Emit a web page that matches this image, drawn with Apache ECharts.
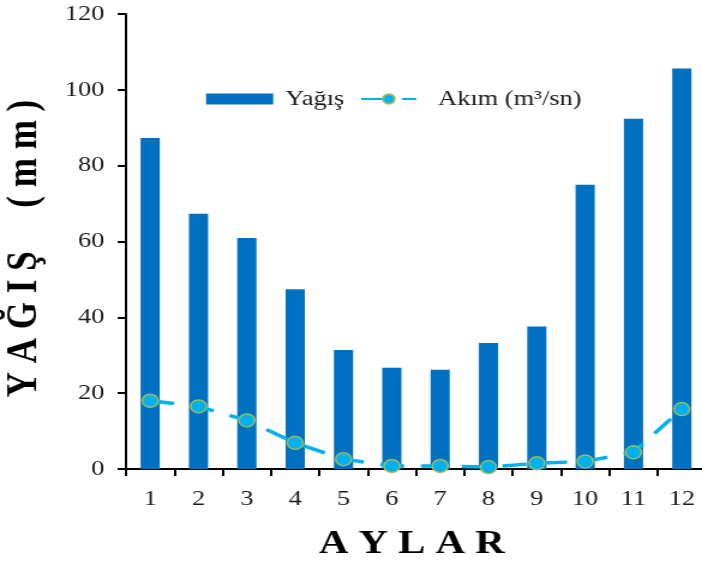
<!DOCTYPE html>
<html>
<head>
<meta charset="utf-8">
<script src="https://cdn.jsdelivr.net/npm/echarts@6/dist/echarts.min.js"></script>
<style>
  html, body { margin: 0; padding: 0; background: #fff; overflow: hidden; }
  /* the chart is laid out narrow and widened horizontally */
  #chart { width: 585px; height: 561px; transform: scaleX(1.2); transform-origin: 0 0; }
</style>
</head>
<body>
<div id="chart"></div>
<script>
// Monthly precipitation (mm) and discharge (m³/sn)
const months = ['1', '2', '3', '4', '5', '6', '7', '8', '9', '10', '11', '12'];
const yagis = [87.3, 67.3, 60.9, 47.4, 31.4, 26.7, 26.2, 33.2, 37.6, 75.0, 92.4, 105.6];
const akim = [18.0, 16.5, 12.8, 6.9, 2.6, 0.8, 0.8, 0.5, 1.5, 2.0, 4.4, 15.8];
const yMin = 0, yMax = 120, yStep = 20;

const serif = "'Liberation Serif', 'Times New Roman', serif";
const axisLine = { show: true, lineStyle: { color: '#000', width: 2 } };

const chart = echarts.init(document.getElementById('chart'), null, { renderer: 'canvas' });
chart.setOption({
  animation: false,
  grid: { left: 105, top: 14, width: 483.3, height: 455, containLabel: false, outerBoundsMode: 'none' },
  legend: [
    {
      data: [{ name: 'Yağış', icon: 'rect' }],
      left: 171.7, top: 88, padding: 0,
      itemWidth: 56, itemHeight: 11,
      textStyle: { fontFamily: serif, fontSize: 22, color: '#1a1a1a', padding: [0, 0, 0, 5] }
    },
    {
      data: ['Akım (m³/sn)'],
      left: 300, top: 88, padding: 0,
      itemWidth: 46, itemHeight: 12,
      textStyle: { fontFamily: serif, fontSize: 22, color: '#1a1a1a', padding: [0, 0, 0, 13] }
    }
  ],
  xAxis: {
    type: 'category',
    data: months,
    boundaryGap: true,
    axisLine: axisLine,
    axisTick: { show: true, length: 7, lineStyle: { color: '#000', width: 2 } },
    axisLabel: { fontFamily: serif, fontSize: 22, color: '#1a1a1a', margin: 19 },
    name: 'A Y L A R',
    nameLocation: 'middle',
    nameGap: 58,
    nameTextStyle: { fontFamily: serif, fontSize: 34, fontWeight: 'bold', color: '#000', padding: [0, 7, 0, 0] }
  },
  yAxis: {
    type: 'value',
    min: yMin, max: yMax, interval: yStep,
    splitLine: { show: false },
    axisLine: axisLine,
    axisTick: { show: true, length: 7, lineStyle: { color: '#000', width: 2 } },
    axisLabel: { fontFamily: serif, fontSize: 22, color: '#1a1a1a', margin: 18 },
    name: 'Y A Ğ I Ş     ( m m )',
    nameLocation: 'middle',
    nameRotate: 90,
    nameGap: 67,
    nameTextStyle: { fontFamily: serif, fontSize: 35, fontWeight: 'bold', color: '#000', padding: [0, 14, 0, 0] }
  },
  series: [
    {
      name: 'Yağış',
      type: 'bar',
      data: yagis,
      barWidth: 16,
      itemStyle: { color: '#0070C0' }
    },
    {
      name: 'Akım (m³/sn)',
      type: 'line',
      data: akim,
      z: 5,
      symbol: 'circle',
      symbolSize: 13,
      itemStyle: { color: '#00B0F0', borderColor: '#9BBB59', borderWidth: 1.5 },
      lineStyle: { color: '#00B0F0', width: 3.5, type: [20, 14] }
    }
  ]
});
</script>
</body>
</html>
